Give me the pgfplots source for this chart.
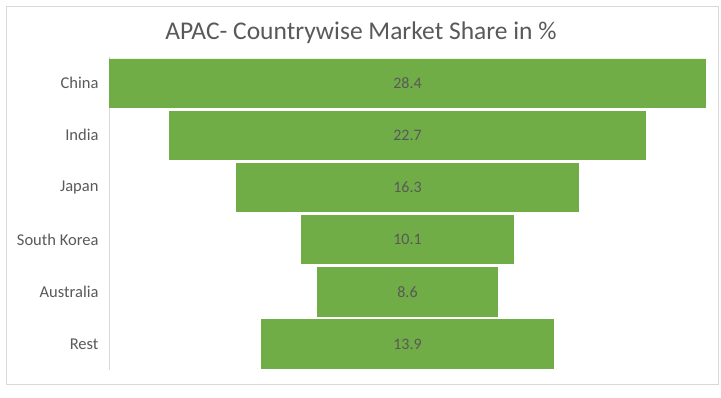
\documentclass[border=0pt]{standalone}
\usepackage{pgfplots}
\pgfplotsset{compat=1.18}
\usepackage{pgfplotstable}
\usepackage{fontspec}
\setmainfont{Carlito}
\definecolor{barg}{HTML}{70AD47}
\definecolor{txt}{HTML}{595959}
\definecolor{frame}{HTML}{D9D9D9}
\pgfplotstableread{
idx v
0 28.4
1 22.7
2 16.3
3 10.1
4 8.6
5 13.9
}\funnel
\begin{document}
\begin{tikzpicture}
\path (0pt,0pt) rectangle (721pt,397pt);
\draw[frame, line width=1pt] (6pt,13pt) rectangle (718pt,390pt);
\node[txt, font=\fontsize{25.5}{30}\selectfont] at (361pt,364pt) {APAC- Countrywise Market Share in \%};
\begin{axis}[
  at={(109pt,27pt)}, anchor=south west,
  scale only axis, width=597pt, height=313pt,
  xmin=-14.2, xmax=14.2, ymin=-0.5, ymax=5.5,
  enlargelimits=false,
  y dir=reverse,
  axis x line=none,
  axis y line*=left,
  axis line style={-},
  y axis line style={draw=frame, line width=0.8pt},
  ytick={0,...,5},
  yticklabels={China,India,Japan,South Korea,Australia,Rest},
  major tick length=0pt,
  yticklabel style={font=\fontsize{16.5}{19}\selectfont, text=txt, xshift=-7pt},
  /pgf/number format/assume math mode=true,
  /pgf/number format/.cd, fixed, precision=1, fixed zerofill,
]
\addplot[xbar, bar width=48.4pt, bar shift=0pt, fill=barg, draw=barg, line width=0.6pt] table[x expr=-\thisrow{v}/2+0.014, y=idx] {\funnel};
\addplot[xbar, bar width=48.4pt, bar shift=0pt, fill=barg, draw=barg, line width=0.6pt] table[x expr=\thisrow{v}/2-0.014, y=idx] {\funnel};
\addplot[draw=none, mark=none, nodes near coords, point meta=explicit,
  every node near coord/.append style={anchor=center, text=txt, font=\fontsize{16}{19}\selectfont}]
  table[x expr=0, y=idx, meta=v] {\funnel};
\end{axis}
\end{tikzpicture}
\end{document}
